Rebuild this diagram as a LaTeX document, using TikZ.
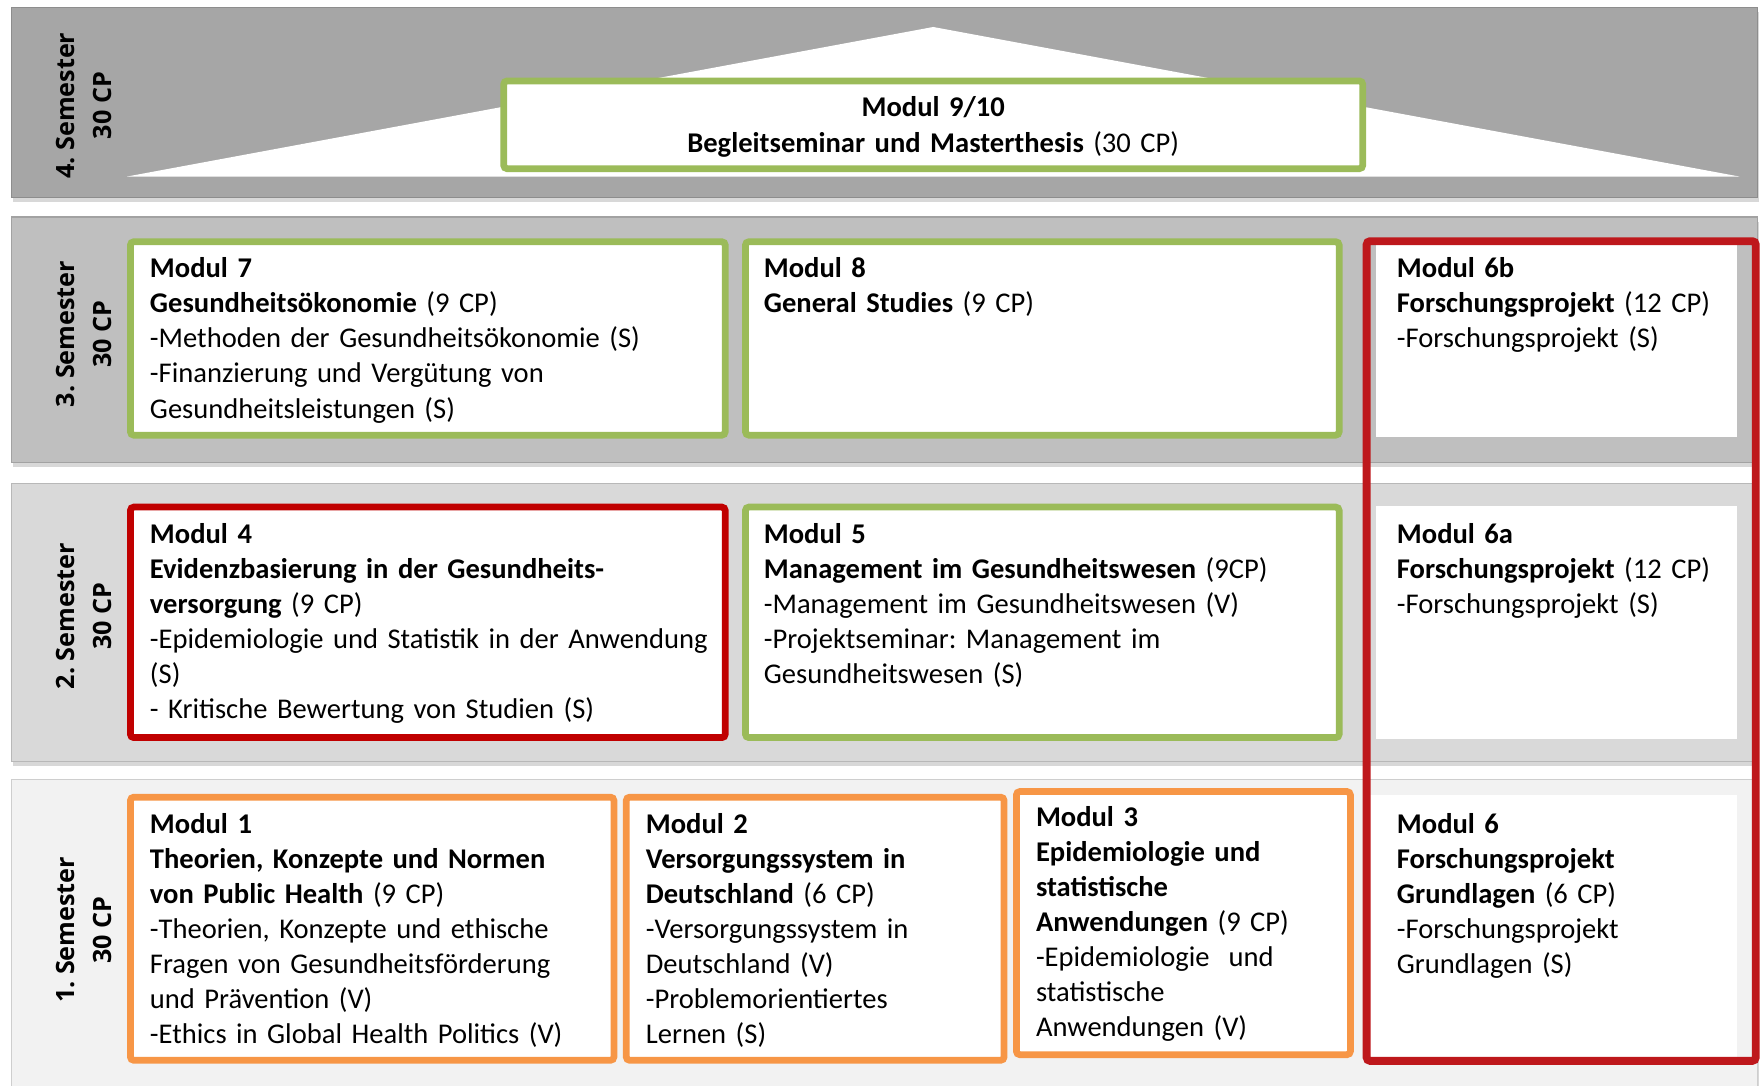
\documentclass[tikz,border=0pt]{standalone}
\usepackage{fontspec}
\setmainfont{Carlito}
\newfontfamily\labfont{Open Sans}
\usetikzlibrary{fit,shadows}
\definecolor{mgreen}{HTML}{9BBB59}
\definecolor{morange}{HTML}{F79646}
\definecolor{mred}{HTML}{C00000}
\definecolor{fred}{RGB}{190,24,28}
\definecolor{bandA}{HTML}{A6A6A6}
\definecolor{bandB}{HTML}{BFBFBF}
\definecolor{bandC}{HTML}{D9D9D9}
\definecolor{bandD}{HTML}{F2F2F2}
\frenchspacing
\begin{document}
\begin{tikzpicture}[x=0.5pt,y=-0.5pt,
  band/.style={inner sep=0pt, draw=#1!85!black, line width=0.5pt, fill=#1,
    drop shadow={shadow xshift=0.8pt, shadow yshift=-2pt, opacity=0.3}},
  modbox/.style={inner sep=0pt, draw=#1, line width=3pt, fill=white, rounded corners=1.5pt},
  whitebox/.style={inner sep=0pt, fill=white},
  modtxt/.style={anchor=base west, inner sep=0pt, text width=280pt, align=left,
    font=\fontsize{12.7pt}{15.6pt}\selectfont},
  semlab/.style={rotate=90, align=center, inner sep=0pt,
    font=\labfont\bfseries\fontsize{11.2pt}{16.5pt}\selectfont}
]
\useasboundingbox (0,0) rectangle (1568,965);
\fill[white] (0,0) rectangle (1568,965);

% semester bands
\node[band=bandD, fit={(10,693) (1563,968)}] (band1) {};
\node[band=bandC, fit={(10,430) (1563,677)}] (band2) {};
\node[band=bandB, fit={(10,193) (1563,411)}] (band3) {};
\node[band=bandA, fit={(10,7) (1563,176)}] (band4) {};

% roof triangle
\fill[white] (830,24) -- (113,157) -- (1547,157) -- cycle;

% semester labels
\node[semlab] (s4) at (75,94) {4. Semester\\30 CP};
\node[semlab] (s3) at (75,297) {3. Semester\\30 CP};
\node[semlab] (s2) at (75,548) {2. Semester\\30 CP};
\node[semlab] (s1) at (75,827) {1. Semester\\30 CP};

% module boxes
\node[modbox=mgreen, fit={(448,72) (1212,150)}] (m910) {};
\node[modbox=mgreen, fit={(116,215) (645,387)}] (m7) {};
\node[modbox=mgreen, fit={(663,215) (1191,387)}] (m8) {};
\node[whitebox, fit={(1224,218) (1545,389)}] (m6b) {};
\node[modbox=mred, fit={(116,451) (645,656)}] (m4) {};
\node[modbox=mgreen, fit={(663,451) (1191,656)}] (m5) {};
\node[whitebox, fit={(1224,450) (1545,657)}] (m6a) {};
\node[modbox=morange, fit={(116,709) (546,943)}] (m1) {};
\node[modbox=morange, fit={(557,709) (893,943)}] (m2) {};
\node[modbox=morange, fit={(904,704) (1201,938)}] (m3) {};
\node[whitebox, fit={(1218,707) (1545,942)}] (m6) {};

% texts
\node[modtxt, anchor=base, align=center, text width=400pt] (t910) at (830,104)
  {\textbf{Modul 9/10}\\\textbf{Begleitseminar und Masterthesis} (30 CP)};
\node[modtxt] (t7) at (133,247)
  {\textbf{Modul 7}\\\textbf{Gesundheitsökonomie} (9 CP)\\-Methoden der Gesundheitsökonomie (S)\\-Finanzierung und Vergütung von\\Gesundheitsleistungen (S)};
\node[modtxt] (t8) at (679,247)
  {\textbf{Modul 8}\\\textbf{General Studies} (9 CP)};
\node[modtxt] (t6b) at (1242,247)
  {\textbf{Modul 6b}\\\textbf{Forschungsprojekt} (12 CP)\\-Forschungsprojekt (S)};
\node[modtxt] (t4) at (133,483)
  {\textbf{Modul 4}\\\textbf{Evidenzbasierung in der Gesundheits-}\\\textbf{versorgung} (9 CP)\\-Epidemiologie und Statistik in der Anwendung\\(S)\\- Kritische Bewertung von Studien (S)};
\node[modtxt] (t5) at (679,483)
  {\textbf{Modul 5}\\\textbf{Management im Gesundheitswesen} (9CP)\\-Management im Gesundheitswesen (V)\\-Projektseminar: Management im\\Gesundheitswesen (S)};
\node[modtxt] (t6a) at (1242,483)
  {\textbf{Modul 6a}\\\textbf{Forschungsprojekt} (12 CP)\\-Forschungsprojekt (S)};
\node[modtxt] (t1) at (133,741)
  {\textbf{Modul 1}\\\textbf{Theorien, Konzepte und Normen}\\\textbf{von Public Health} (9 CP)\\-Theorien, Konzepte und ethische\\Fragen von Gesundheitsförderung\\und Prävention (V)\\-Ethics in Global Health Politics (V)};
\node[modtxt] (t2) at (574,741)
  {\textbf{Modul 2}\\\textbf{Versorgungssystem in}\\\textbf{Deutschland} (6 CP)\\-Versorgungssystem in\\Deutschland (V)\\-Problemorientiertes\\Lernen (S)};
\node[modtxt] (t3) at (921,735)
  {\textbf{Modul 3}\\\textbf{Epidemiologie und}\\\textbf{statistische}\\\textbf{Anwendungen} (9 CP)\\-Epidemiologie\ \ und\\statistische\\Anwendungen (V)};
\node[modtxt] (t6) at (1242,741)
  {\textbf{Modul 6}\\\textbf{Forschungsprojekt}\\\textbf{Grundlagen} (6 CP)\\-Forschungsprojekt\\Grundlagen (S)};

% research project frame
\node[inner sep=0pt, draw=fred, line width=3.5pt, rounded corners=1.5pt,
  fit={(1215.5,214.5) (1561.5,943.5)}] (frame) {};
\end{tikzpicture}
\end{document}
